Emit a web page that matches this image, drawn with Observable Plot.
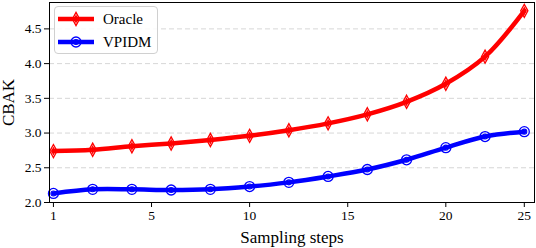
<!DOCTYPE html>
<html>
<head>
<meta charset="utf-8">
<script src="https://cdn.jsdelivr.net/npm/d3@7"></script>
<script src="https://cdn.jsdelivr.net/npm/@observablehq/plot@0.6"></script>
<style>
  body { margin: 0; background: white; }
  #wrap { position: relative; width: 536px; height: 248px; font-family: "Liberation Serif", "Times New Roman", serif; }
  #wrap svg { display: block; }
  g[aria-label="y-axis label"] text, g[aria-label="x-axis label"] text { font-size: 17px; }
  #legend { position: absolute; left: 54px; top: 6px; width: 104px; height: 48px; border: 1px solid #d0d0d0; border-radius: 4px; background: rgba(255,255,255,0.85); box-sizing: border-box; }
  .row { position: absolute; left: 3px; height: 20px; display: flex; align-items: center; font-size: 15px; }
  .row span { margin-left: 9px; }
</style>
</head>
<body>
<div id="wrap"></div>
<script>
// ---- data ----
const steps = [1, 2, 4, 6, 8, 10, 12, 14, 16, 18, 20, 22, 25];
const oracle = [2.74, 2.76, 2.81, 2.85, 2.90, 2.96, 3.04, 3.14, 3.27, 3.45, 3.71, 4.10, 4.76];
const vpidm = [2.13, 2.19, 2.19, 2.18, 2.19, 2.23, 2.29, 2.375, 2.475, 2.615, 2.79, 2.95, 3.02];
const xTickLabels = [1, 5, 10, 15, 20, 25];
const yTicks = [2.0, 2.5, 3.0, 3.5, 4.0, 4.5];
const seriesNames = ["Oracle", "VPIDM"];
const seriesColors = ["#ff0000", "#0000ff"];

// steps are plotted at evenly spaced positions
const stepPos = d3.scaleLinear(steps, d3.range(steps.length));

const rows = [];
[oracle, vpidm].forEach((vals, k) => {
  vals.forEach((v, i) => rows.push({series: seriesNames[k], step: steps[i], pos: stepPos(steps[i]), value: v}));
});

const thinDiamond = {
  draw(ctx, size) {
    const w = 3.6, h = 6.6;
    ctx.moveTo(0, -h); ctx.lineTo(w, 0); ctx.lineTo(0, h); ctx.lineTo(-w, 0); ctx.closePath();
  }
};
const innerDiamond = {
  draw(ctx, size) {
    const w = 1.6, h = 3.4;
    ctx.moveTo(0, -h); ctx.lineTo(w, 0); ctx.lineTo(0, h); ctx.lineTo(-w, 0); ctx.closePath();
  }
};

const color = {domain: seriesNames, range: seriesColors};

const chart = Plot.plot({
  width: 536,
  height: 248,
  marginLeft: 49,
  marginRight: 2,
  marginTop: 2,
  marginBottom: 46,
  style: {fontFamily: '"Liberation Serif", "Times New Roman", serif', fontSize: "13.5px", color: "black", background: "white"},
  x: {domain: [-0.1, 12.26]},
  y: {domain: [2.0, 4.88]},
  color,
  marks: [
    Plot.gridY(yTicks, {stroke: "#cccccc", strokeOpacity: 1, strokeDasharray: "5,3", strokeWidth: 0.8}),
    Plot.line(rows, {x: "pos", y: "value", z: "series", stroke: "series", strokeWidth: 4.5, curve: "catmull-rom"}),
    Plot.dot(rows.filter(d => d.series === "Oracle"), {x: "pos", y: "value", stroke: "series", symbol: () => thinDiamond, fill: "none", strokeWidth: 1.3}),
    Plot.dot(rows.filter(d => d.series === "Oracle"), {x: "pos", y: "value", stroke: "series", symbol: () => innerDiamond, fill: "none", strokeWidth: 1.1}),
    Plot.dot(rows.filter(d => d.series === "VPIDM"), {x: "pos", y: "value", stroke: "series", r: 5, fill: "none", strokeWidth: 1.3}),
    Plot.dot(rows.filter(d => d.series === "VPIDM"), {x: "pos", y: "value", stroke: "series", r: 2.5, fill: "none", strokeWidth: 1.1}),
    Plot.frame({stroke: "black", strokeWidth: 1}),
    Plot.axisY(yTicks, {tickSize: 5, tickPadding: 3, tickFormat: d3.format(".1f"), label: "CBAK", labelAnchor: "center", labelArrow: "none", labelOffset: 48}),
    Plot.axisX(xTickLabels.map(s => stepPos(s)), {tickSize: 5, tickPadding: 3, tickFormat: p => String(Math.round(stepPos.invert(p))), label: "Sampling steps", labelAnchor: "center", labelArrow: "none", labelOffset: 40})
  ]
});

const wrap = document.getElementById("wrap");
wrap.appendChild(chart);

// legend
const legend = document.createElement("div");
legend.id = "legend";
const legendSvg = (k) => {
  const c = seriesColors[k];
  const marker = k === 0
    ? `<path d="M18,3.4 L21.6,10 L18,16.6 L14.4,10 Z" fill="none" stroke="${c}" stroke-width="1.3"/><path d="M18,6.6 L19.6,10 L18,13.4 L16.4,10 Z" fill="none" stroke="${c}" stroke-width="1.1"/>`
    : `<circle cx="18" cy="10" r="5" fill="none" stroke="${c}" stroke-width="1.3"/><circle cx="18" cy="10" r="2.5" fill="none" stroke="${c}" stroke-width="1.1"/>`;
  return `<svg width="36" height="20"><line x1="0" x2="36" y1="10" y2="10" stroke="${c}" stroke-width="4.5"/>${marker}</svg>`;
};
seriesNames.forEach((name, k) => {
  const row = document.createElement("div");
  row.className = "row";
  row.style.top = (k === 0 ? 2 : 25) + "px";
  row.innerHTML = legendSvg(k) + `<span>${name}</span>`;
  legend.appendChild(row);
});
wrap.appendChild(legend);
</script>
</body>
</html>
